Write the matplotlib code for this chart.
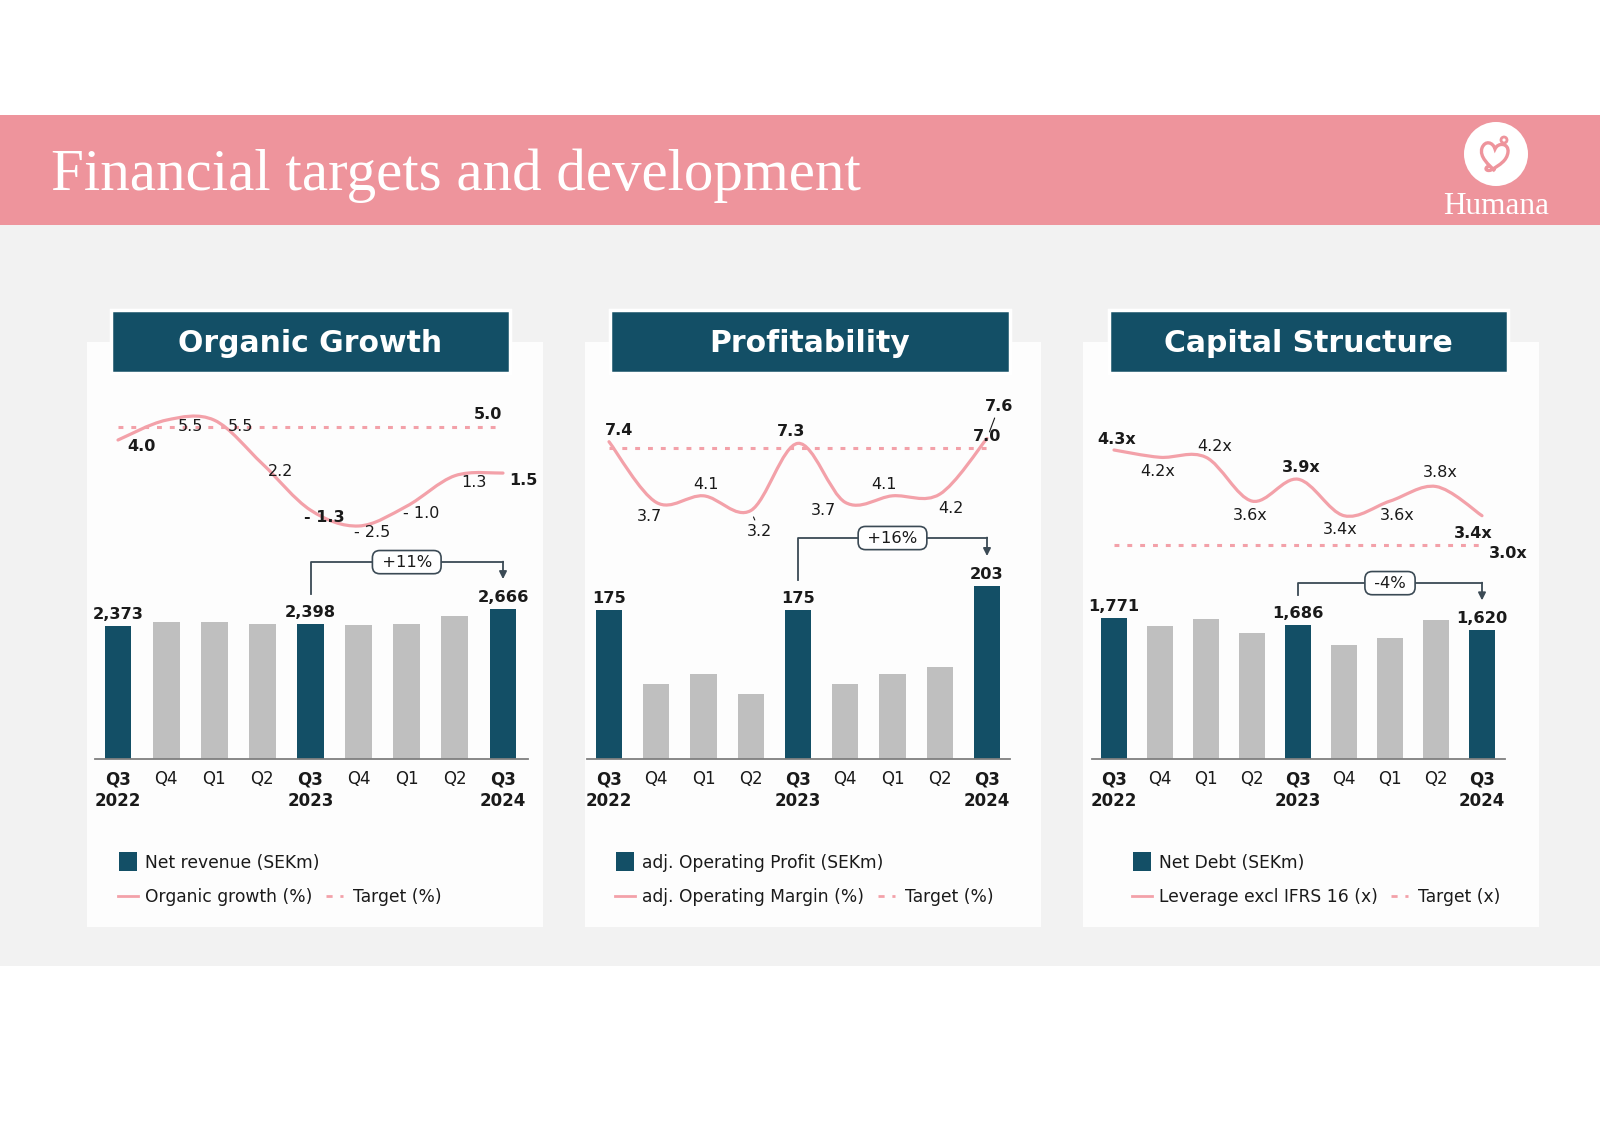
# coding: utf-8
import numpy as np
import matplotlib.pyplot as plt
from matplotlib.patches import Rectangle, Circle, PathPatch
from matplotlib.path import Path

# ================= 数据 =================
quarters = ["Q3\n2022", "Q4", "Q1", "Q2", "Q3\n2023", "Q4", "Q1", "Q2", "Q3\n2024"]
highlight = [0, 4, 8]

net_revenue = [2373, 2442, 2442, 2407, 2398, 2390, 2407, 2540, 2666]
organic_growth = [4.0, 5.5, 5.5, 2.2, -1.3, -2.5, -1.0, 1.3, 1.5]
growth_target = 5.0
growth_change = "+11%"

adj_op_profit = [175, 88, 100, 76, 175, 88, 100, 108, 203]
adj_op_margin = [7.4, 3.7, 4.1, 3.2, 7.3, 3.7, 4.1, 4.2, 7.6]
margin_target = 7.0
profit_change = "+16%"

net_debt = [1771, 1669, 1759, 1593, 1686, 1437, 1526, 1747, 1620]
leverage = [4.3, 4.2, 4.2, 3.6, 3.9, 3.4, 3.6, 3.8, 3.4]
leverage_target = 3.0
debt_change = "-4%"

# ================= 样式 =================
TEAL = "#134F66"
GREY_BAR = "#BFBFBF"
PINK_LINE = "#F3A1A9"
PINK_BAND = "#EE949C"
BG_GREY = "#F2F2F2"
PANEL_BG = "#FDFDFD"
TXT = "#1A1A1A"
BRACKET = "#3B4A55"

W, H, DPI = 1600, 1131, 100
BASE_Y = 759      # 柱状图基线 (像素)
TOP_Y = 380       # 绘图区顶部 (像素)

plt.rcParams['font.family'] = ['DejaVu Sans']


def fmt_pct(v):
    return f"- {abs(v):.1f}" if v < 0 else f"{v:.1f}"


def fmt_x(v):
    return f"{v:.1f}x"


PANELS = [
    dict(title="Organic Growth", box=(87, 543), title_box=(111, 510),
         axis=(95, 528), first=118, last=503,
         bars=net_revenue, bar_px=0.05622,
         line=organic_growth, target=growth_target, anchor=(4.0, 440), line_px=13.23,
         fmt=fmt_pct, target_fmt="5.0", change=growth_change, lift=17,
         offsets=[(24, -6), (24, -6), (26, -6), (18, -8), (14, -7), (14, -7), (14, -7), (19, -7), (20, -7)],
         target_off=(-15, 12), leaders=[],
         legend=("Net revenue (SEKm)", "Organic growth (%)", "Target (%)"), leg_x=119, leg_dash=326),
    dict(title="Profitability", box=(585, 1041), title_box=(610, 1010),
         axis=(587, 1010), first=609, last=987,
         bars=adj_op_profit, bar_px=0.852,
         line=adj_op_margin, target=margin_target, anchor=(7.4, 441.7), line_px=16.4,
         fmt=fmt_pct, target_fmt="7.0", change=profit_change, lift=18,
         offsets=[(10, 11), (-7, -14), (2, 11), (9, -21), (-7, 12), (-22, -8), (-8, 11), (11, -14), (12, 32)],
         target_off=(0, 12), leaders=[3, 8],
         legend=("adj. Operating Profit (SEKm)", "adj. Operating Margin (%)", "Target (%)"), leg_x=616, leg_dash=878),
    dict(title="Capital Structure", box=(1083, 1539), title_box=(1109, 1508),
         axis=(1092, 1505), first=1114, last=1482,
         bars=net_debt, bar_px=0.0794,
         line=leverage, target=leverage_target, anchor=(4.3, 450), line_px=73,
         fmt=fmt_x, target_fmt="3.0x", change=debt_change, lift=12,
         offsets=[(3, 11), (-2, -14), (9, 11), (-2, -14), (3, 12), (-4, -14), (7, -14), (4, 14), (-9, -18)],
         target_off=(26, -9), leaders=[],
         legend=("Net Debt (SEKm)", "Leverage excl IFRS 16 (x)", "Target (x)"), leg_x=1133, leg_dash=1391),
]


def smooth_path(xs, ys):
    # Catmull-Rom 转为三次贝塞尔, 模拟 Excel 平滑线
    pts = np.column_stack([xs, ys]).astype(float)
    ext = np.vstack([pts[0], pts, pts[-1]])
    verts = [pts[0]]
    codes = [Path.MOVETO]
    for i in range(len(pts) - 1):
        p0, p1, p2, p3 = ext[i], ext[i + 1], ext[i + 2], ext[i + 3]
        verts += [p1 + (p2 - p0) / 6, p2 - (p3 - p1) / 6, p2]
        codes += [Path.CURVE4] * 3
    return Path(verts, codes)


def px_rect(x0, y0, x1, y1):
    return [x0 / W, 1 - y1 / H, (x1 - x0) / W, (y1 - y0) / H]


fig = plt.figure(figsize=(W / DPI, H / DPI), dpi=DPI, facecolor="white")

# ================= 背景画布 =================
canvas = fig.add_axes([0, 0, 1, 1])
canvas.set_xlim(0, W)
canvas.set_ylim(H, 0)
canvas.axis("off")

canvas.add_patch(Rectangle((0, 115), W, 110, color=PINK_BAND, lw=0))
canvas.add_patch(Rectangle((0, 225), W, 741, color=BG_GREY, lw=0))
canvas.text(51, 190, "Financial targets and development", color="white",
            fontsize=42.5, family="Liberation Serif", va="baseline", ha="left")

# logo
canvas.add_patch(Circle((1496, 154), 32, color="white", lw=0))
cx, cy = 1495, 156
heart = Path([(cx, cy + 15), (cx - 6, cy + 9), (cx - 16, cy + 1), (cx - 13, cy - 8),
              (cx - 10, cy - 16), (cx - 2, cy - 14), (cx, cy - 7),
              (cx + 3, cy - 14), (cx + 14, cy - 13), (cx + 13, cy - 4),
              (cx + 12, cy + 5), (cx + 4, cy + 9), (cx - 2, cy + 13),
              (cx - 8, cy + 17), (cx - 12, cy + 12), (cx - 6, cy + 10)],
             [Path.MOVETO] + [Path.CURVE4] * 15)
canvas.add_patch(PathPatch(heart, fill=False, ec=PINK_BAND, lw=2.4))
canvas.add_patch(Circle((cx + 9, cy - 16), 3, fill=False, ec=PINK_BAND, lw=2))
canvas.text(1496, 207, "Humana", color="white", fontsize=22.5,
            family="Liberation Serif", ha="center", va="center")

# ================= 三个面板 =================
for p in PANELS:
    bx0, bx1 = p["box"]
    canvas.add_patch(Rectangle((bx0, 342), bx1 - bx0, 585, color=PANEL_BG, lw=0))
    tx0, tx1 = p["title_box"]
    canvas.add_patch(Rectangle((tx0, 310), tx1 - tx0, 63, fc=TEAL, ec="white", lw=2.5))
    canvas.text((tx0 + tx1) / 2, 343, p["title"], color="white", fontsize=21.5,
                fontweight="bold", ha="center", va="center")

    # 图例
    lx = p["leg_x"]
    canvas.add_patch(Rectangle((lx, 852), 18, 19, color=TEAL, lw=0))
    canvas.text(lx + 26, 863, p["legend"][0], fontsize=12.3, color=TXT, va="center")
    canvas.plot([lx - 1, lx + 19], [896, 896], color=PINK_LINE, lw=2)
    canvas.text(lx + 26, 897, p["legend"][1], fontsize=12.3, color=TXT, va="center")
    dx = p["leg_dash"]
    canvas.plot([dx, dx + 17], [896, 896], color=PINK_LINE, lw=2, ls=(0, (2.2, 2.8)))
    canvas.text(dx + 27, 897, p["legend"][2], fontsize=12.3, color=TXT, va="center")

    # 坐标设置
    ax0, ax1 = p["axis"]
    sp = (p["last"] - p["first"]) / 8
    xlim = (-(p["first"] - ax0) / sp, 8 + (ax1 - p["last"]) / sp)
    rect = px_rect(ax0, TOP_Y, ax1, BASE_Y)
    x = np.arange(len(quarters))

    # 柱状图
    ax = fig.add_axes(rect)
    ax.set_facecolor("none")
    k = p["bar_px"]
    ax.set_xlim(*xlim)
    ax.set_ylim(0, (BASE_Y - TOP_Y) / k)
    colors = [TEAL if i in highlight else GREY_BAR for i in x]
    ax.bar(x, p["bars"], width=0.56, color=colors, zorder=2)
    for s in ["top", "left", "right"]:
        ax.spines[s].set_visible(False)
    ax.spines["bottom"].set_color("#7F7F7F")
    ax.spines["bottom"].set_linewidth(1.3)
    ax.set_yticks([])
    ax.set_xticks(x, quarters)
    ax.tick_params(axis="x", length=0, pad=8, labelsize=12, colors=TXT)
    for i, lab in enumerate(ax.get_xticklabels()):
        lab.set_linespacing(1.3)
        if i in highlight:
            lab.set_fontweight("bold")
    for i in highlight:
        ax.annotate(f"{p['bars'][i]:,}", (i, p["bars"][i]), xytext=(0, 4),
                    textcoords="offset pixels", ha="center", va="bottom",
                    fontsize=11.7, fontweight="bold", color=TXT)

    # 同比变化括号
    y_start = p["bars"][4] + 30 / k
    y_tip = p["bars"][8] + 30 / k
    y_level = max(y_start, y_tip) + p["lift"] / k
    ax.plot([4, 4, 8], [y_start, y_level, y_level], color=BRACKET, lw=1.3, zorder=3)
    ax.annotate("", xy=(8, y_tip), xytext=(8, y_level + 0.5 / k),
                arrowprops=dict(arrowstyle="-|>", color=BRACKET, lw=1.3,
                                mutation_scale=11, shrinkA=0, shrinkB=0))
    ax.text(6, y_level, f" {p['change']} ", ha="center", va="center", fontsize=11.8,
            color=TXT, zorder=4,
            bbox=dict(boxstyle="round,pad=0.25,rounding_size=0.45", fc="white",
                      ec=BRACKET, lw=1.2))

    # 折线图 (独立纵轴)
    lax = fig.add_axes(rect)
    lax.set_facecolor("none")
    lax.axis("off")
    va, ya = p["anchor"]
    s = p["line_px"]
    lax.set_xlim(*xlim)
    lax.set_ylim(va - (BASE_Y - ya) / s, va + (ya - TOP_Y) / s)
    lax.add_patch(PathPatch(smooth_path(x, p["line"]), fill=False, ec=PINK_LINE,
                            lw=2.3, capstyle="round", zorder=3))
    lax.plot([0, 8], [p["target"], p["target"]], color=PINK_LINE, lw=2.2,
             ls=(0, (1.6, 2.6)), zorder=2)
    for i, v in enumerate(p["line"]):
        ox, oy = p["offsets"][i]
        arrow = None
        if i in p["leaders"]:
            arrow = dict(arrowstyle="-", color=TXT, lw=0.8, shrinkA=1, shrinkB=5)
        lax.annotate(p["fmt"](v), (i, v), xytext=(ox, oy), textcoords="offset pixels",
                     ha="center", va="center", fontsize=11.5, color=TXT,
                     fontweight="bold" if i in highlight else "normal",
                     arrowprops=arrow)
    tox, toy = p["target_off"]
    lax.annotate(p["target_fmt"], (8, p["target"]), xytext=(tox, toy),
                 textcoords="offset pixels", ha="center", va="center",
                 fontsize=11.5, fontweight="bold", color=TXT)

fig.savefig("out.png", dpi=DPI, facecolor="white")
